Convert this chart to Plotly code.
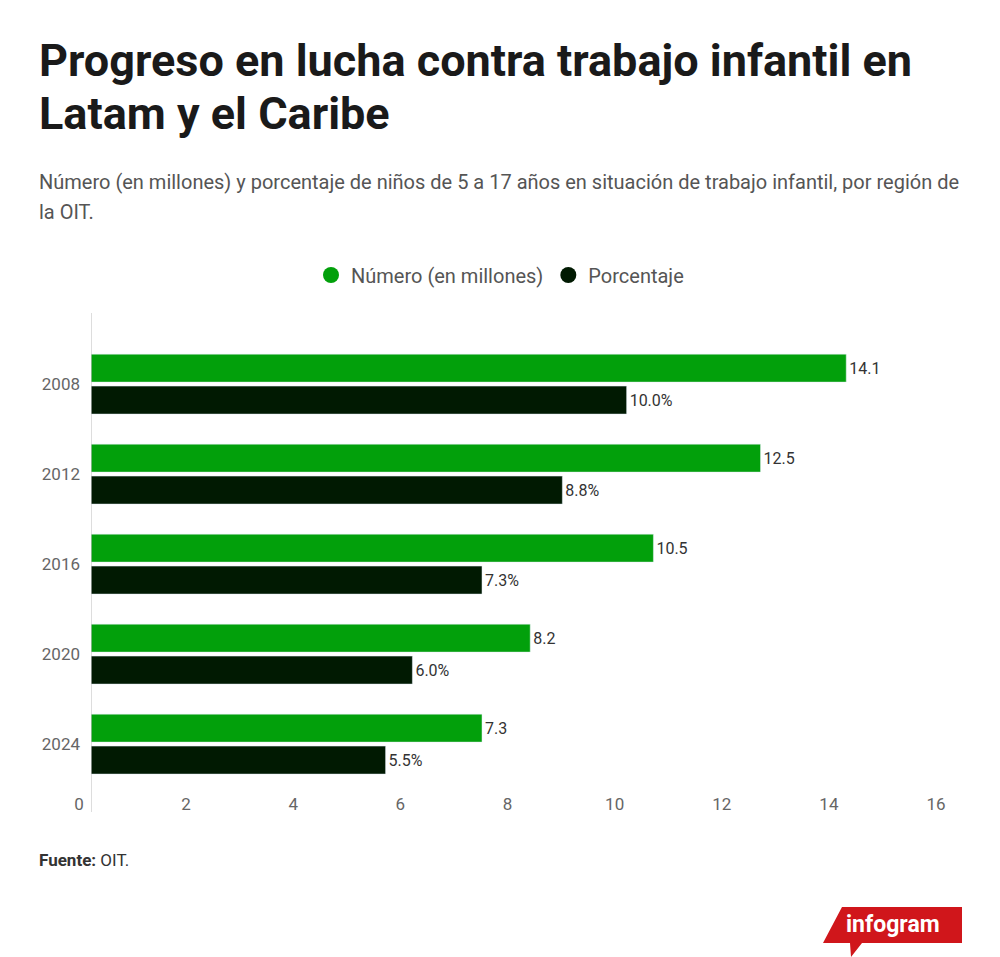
import plotly.graph_objects as go

# Data
years = ["2008", "2012", "2016", "2020", "2024"]
numero = [14.1, 12.5, 10.5, 8.2, 7.3]
porcentaje = [10.0, 8.8, 7.3, 6.0, 5.5]
x_ticks = [0, 2, 4, 6, 8, 10, 12, 14, 16]

green = "#02a00b"
dark = "#011a02"

W, H = 1000, 957
OFF = 8  # page body margin shifts the figure
L, R, T, B = 91 - OFF, 948 - OFF, 313 - OFF, 790 - OFF


def px(x):
    return (x - OFF - L) / (R - L)


def py(y):
    return (B - (y - OFF)) / (B - T)


fig = go.Figure()

fig.add_trace(go.Bar(
    y=years, x=numero, orientation="h", name="Número (en millones)",
    marker=dict(color=green), showlegend=False,
    text=numero, texttemplate="%{x:.1f}", textposition="outside",
    textfont=dict(size=16, color="#333"), cliponaxis=False,
))
fig.add_trace(go.Bar(
    y=years, x=porcentaje, orientation="h", name="Porcentaje",
    marker=dict(color=dark), showlegend=False,
    text=porcentaje, texttemplate="%{x:.1f}%", textposition="outside",
    textfont=dict(size=16, color="#333"), cliponaxis=False,
))

# legend entries with round markers
for name, col in [("Número (en millones)", green), ("Porcentaje", dark)]:
    fig.add_trace(go.Scatter(
        x=[None], y=[None], mode="markers", name=name,
        marker=dict(symbol="circle", size=20, color=col),
    ))

annotations = [
    dict(text="<b>Progreso en lucha contra trabajo infantil en</b>", x=px(37), y=py(61),
         font=dict(size=45, color="#1a1a1a", family="Roboto")),
    dict(text="<b>Latam y el Caribe</b>", x=px(37), y=py(113),
         font=dict(size=45, color="#1a1a1a", family="Roboto")),
    dict(text="Número (en millones) y porcentaje de niños de 5 a 17 años en situación de trabajo infantil, por región de",
         x=px(37), y=py(182), font=dict(size=20, color="#555", family="Roboto")),
    dict(text="la OIT.", x=px(37), y=py(212), font=dict(size=20, color="#555", family="Roboto")),
    dict(text="<b>Fuente:</b> OIT.", x=px(37), y=py(860), font=dict(size=17, color="#333", family="Roboto")),
    dict(text="<b>infogram</b>", x=px(893), y=py(924), xanchor="center",
         font=dict(size=23, color="white", family="Liberation Sans Narrow, Roboto")),
]
for a in annotations:
    a.update(xref="paper", yref="paper", showarrow=False)
    a.setdefault("xanchor", "left")
    a["yanchor"] = "middle"

logo = [(842, 907), (962, 907), (962, 943), (862, 943), (851, 957), (850, 943), (823, 943)]
path = "M " + " L ".join(f"{px(x)},{py(y)}" for x, y in logo) + " Z"

fig.update_layout(
    width=W, height=H,
    margin=dict(l=L, r=W - R, t=T, b=H - B, autoexpand=False),
    paper_bgcolor="white", plot_bgcolor="white",
    font=dict(family="Roboto", color="#555"),
    barmode="group", bargap=0.29, bargroupgap=0.125,
    legend=dict(orientation="h", x=px(500), xanchor="center", xref="paper",
                y=py(275), yanchor="middle", yref="paper",
                font=dict(size=20, color="#555"),
                itemsizing="trace", itemwidth=30),
    annotations=annotations,
    shapes=[
        dict(type="line", xref="x", yref="paper", x0=0, x1=0, y0=py(812), y1=1,
             line=dict(color="#bbb", width=1)),
        dict(type="path", xref="paper", yref="paper", path=path,
             fillcolor="#d0161b", line=dict(width=0)),
    ],
)

fig.update_xaxes(
    range=[0, 16], tickvals=x_ticks, showgrid=False, zeroline=False, showline=False,
    tickfont=dict(size=17, color="#666"), ticklabelshift=-12, ticklabelstandoff=2,
)
fig.update_yaxes(
    categoryorder="array", categoryarray=years, range=[4.51, -0.79],
    showgrid=False, zeroline=False, showline=False,
    tickfont=dict(size=17, color="#666"), ticklabelstandoff=10,
)

fig.write_html("out.html")
